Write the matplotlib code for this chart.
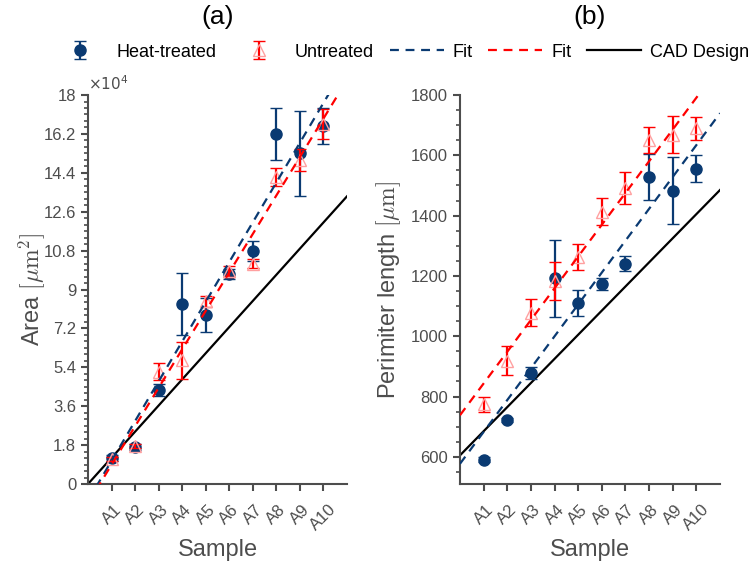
import numpy as np
import matplotlib.pyplot as plt
from matplotlib.ticker import MultipleLocator, FuncFormatter

plt.rcParams['font.family'] = ['Liberation Sans', 'DejaVu Sans']
plt.rcParams['mathtext.fontset'] = 'cm'

samples = ['A1', 'A2', 'A3', 'A4', 'A5', 'A6', 'A7', 'A8', 'A9', 'A10']

# area, in units of 1e4 um^2
area_heat = [1.2, 1.71, 4.35, 8.33, 7.82, 9.72, 10.79, 16.2, 15.3, 16.57]
area_heat_err = [0.12, 0.12, 0.3, 1.45, 0.8, 0.25, 0.45, 1.2, 1.95, 0.85]
area_untr = [1.15, 1.75, 5.2, 5.72, 8.45, 9.85, 10.2, 14.2, 15.0, 16.65]
area_untr_err = [0.1, 0.1, 0.4, 0.85, 0.25, 0.25, 0.2, 0.4, 0.5, 0.7]
area_fit_heat = (1.84, -0.77)   # slope, intercept
area_fit_untr = (1.78, -0.89)
area_cad = (1.21, 0.0)

# perimeter, um
per_heat = [590, 722, 877, 1192, 1110, 1174, 1241, 1528, 1482, 1556]
per_heat_err = [8, 8, 20, 128, 43, 20, 25, 77, 111, 45]
per_untr = [775, 918, 1078, 1182, 1262, 1413, 1493, 1651, 1668, 1690]
per_untr_err = [25, 48, 44, 63, 43, 45, 53, 43, 61, 38]
per_fit_heat = (105.7, 577)
per_fit_untr = (105.3, 738)
per_cad = (80, 605)

blue = '#0a3a72'
red = '#ff0000'
gray = '#4d4d4d'

x = np.arange(1, 11)
xl = np.array([0, 11])


def draw(ax, heat, heat_err, untr, untr_err, fit_h, fit_u, cad):
    h = ax.errorbar(x, heat, yerr=heat_err, fmt='o', color=blue, ms=8,
                    mec=blue, elinewidth=1.6, capsize=4, capthick=1,
                    label='Heat-treated', zorder=3)
    for c in h[1]:
        c.set_color('#aabbd2')
    u = ax.errorbar(x, untr, yerr=untr_err, fmt='^', color=red, ms=8,
                    mfc='none', mec='#ffa0a0', elinewidth=1.6, capsize=4,
                    capthick=1, label='Untreated', zorder=4)
    for c in u[1]:
        c.set_color('#ffa0a0')
    l1, = ax.plot(xl, fit_h[0] * xl + fit_h[1], color=blue, lw=1.6,
                  dashes=(4, 3), label='Fit', zorder=5)
    l2, = ax.plot(xl, fit_u[0] * xl + fit_u[1], color=red, lw=1.6,
                  dashes=(4, 3), label='Fit', zorder=5)
    l3, = ax.plot(xl, cad[0] * xl + cad[1], color='black', lw=1.6,
                  label='CAD Design', zorder=2)
    ax.set_xlim(0, 11)
    ax.set_xticks(x)
    ax.set_xticklabels(samples, rotation=45, ha='center')
    ax.set_xlabel('Sample', fontsize=17, color=gray, labelpad=4)
    for s in ['top', 'right']:
        ax.spines[s].set_visible(False)
    for s in ['left', 'bottom']:
        ax.spines[s].set_color(gray)
        ax.spines[s].set_linewidth(1.5)
    ax.tick_params(which='major', length=5, width=1.5, colors=gray,
                   labelsize=12, labelcolor=gray)
    ax.tick_params(axis='x', pad=8)
    ax.tick_params(which='minor', length=3, width=1.2, colors=gray)
    return [h, u, l1, l2, l3]


fig = plt.figure(figsize=(7.5, 5.67), dpi=100)
ax1 = fig.add_axes([0.1173, 0.1464, 0.3453, 0.686])
ax2 = fig.add_axes([0.6133, 0.1464, 0.3467, 0.686])

handles = draw(ax1, area_heat, area_heat_err, area_untr, area_untr_err,
               area_fit_heat, area_fit_untr, area_cad)
ax1.set_ylim(0, 18)
ax1.yaxis.set_major_locator(MultipleLocator(1.8))
ax1.yaxis.set_minor_locator(MultipleLocator(0.3))
ax1.yaxis.set_major_formatter(FuncFormatter(lambda v, p: '%g' % round(v, 1)))
ax1.set_ylabel(r'Area $[\mu\mathrm{m}^2]$', fontsize=17, color=gray, labelpad=-2)
ax1.text(0.0, 1.005, r'$\times10^4$', transform=ax1.transAxes, ha='left',
         va='bottom', fontsize=11, color=gray, math_fontfamily='dejavusans')
ax1.text(0.5, 1.2, '(a)', transform=ax1.transAxes, ha='center', va='center',
         fontsize=19)

draw(ax2, per_heat, per_heat_err, per_untr, per_untr_err,
     per_fit_heat, per_fit_untr, per_cad)
ax2.set_ylim(510, 1800)
ax2.yaxis.set_major_locator(MultipleLocator(200))
ax2.yaxis.set_minor_locator(MultipleLocator(50))
ax2.set_ylabel(r'Perimiter length $[\mu\mathrm{m}]$', fontsize=17, color=gray,
               labelpad=6)
ax2.text(0.5, 1.2, '(b)', transform=ax2.transAxes, ha='center', va='center',
         fontsize=19)

labels = ['Heat-treated', 'Untreated', 'Fit', 'Fit', 'CAD Design']
fig.legend(handles, labels, loc='center', bbox_to_anchor=(0.535, 0.908),
           ncol=5, frameon=False, fontsize=13, handlelength=3.0,
           handletextpad=0.5, columnspacing=0.85)

fig.savefig('out.png', dpi=100)
